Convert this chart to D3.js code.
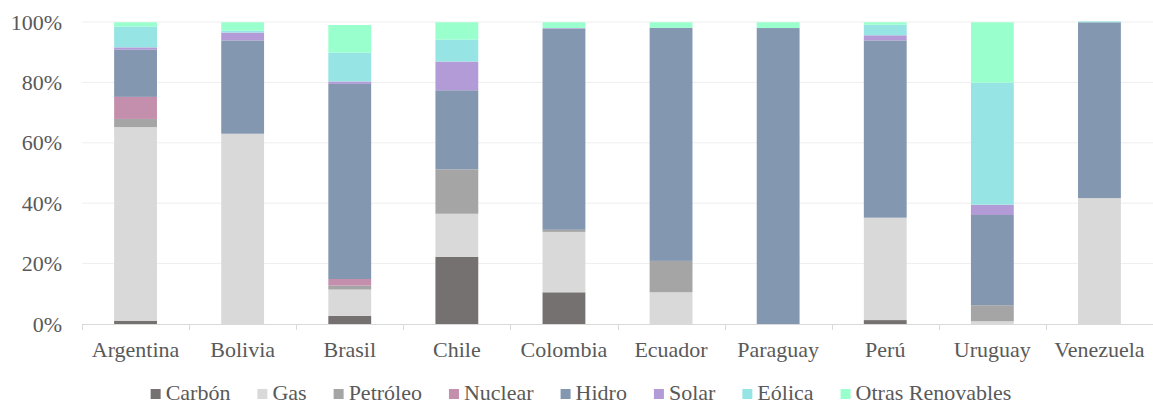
<!DOCTYPE html>
<html>
<head>
<meta charset="utf-8">
<script src="https://cdn.jsdelivr.net/npm/d3@7"></script>
</head>
<body style="margin:0">
<svg id="viz" width="1153" height="405"></svg>
<script>
// Electricity generation mix by source (% of total), South America
const countries = ["Argentina", "Bolivia", "Brasil", "Chile", "Colombia", "Ecuador", "Paraguay", "Perú", "Uruguay", "Venezuela"];
const sources = ["Carbón", "Gas", "Petróleo", "Nuclear", "Hidro", "Solar", "Eólica", "Otras Renovables"];

const carbon    = [1.1, 0,    2.7,  22.2, 10.5, 0,    0,    1.3,  0,    0];
const gas       = [64.1, 63.0, 8.7, 14.3, 20.0, 10.5, 0,    33.9, 0.9,  41.7];
const petroleo  = [2.7, 0,    1.3,  14.7, 0.7,  10.4, 0,    0,    5.3,  0];
const nuclear   = [7.3, 0,    2.2,  0,    0,    0,    0,    0,    0,    0];
const hidro     = [15.6, 30.9, 64.6, 26.2, 66.6, 77.2, 98.0, 58.7, 29.9, 58.2];
const solar     = [0.8, 2.6,  0.8,  9.5,  0.2,  0,    0,    1.7,  3.4,  0];
const eolica    = [6.9, 0.6,  9.6,  7.3,  0,    0,    0,    3.5,  40.4, 0.3];
const otras     = [1.4, 2.8,  9.1,  5.7,  1.9,  1.8,  1.9,  0.8,  20.0, 0];

const yTicks = [0, 20, 40, 60, 80, 100];
const colors = ["#767171", "#d9d9d9", "#a5a5a5", "#c48fad", "#8497b0", "#b29bd6", "#96e4e4", "#99ffcc"];

const seriesValues = [carbon, gas, petroleo, nuclear, hidro, solar, eolica, otras];
const rows = countries.map((c, i) => {
  const r = { country: c };
  sources.forEach((s, k) => { r[s] = seriesValues[k][i]; });
  return r;
});

const TEXT_COLOR = "#595959";
const FONT_SIZE = 22;
const svg = d3.select("#viz");
const margin = { left: 82, right: 0, top: 22, bottom: 81 };
const width = 1153, height = 405;

// serif label helper
function label(sel) {
  return sel
    .attr("font-family", "Liberation Serif")
    .style("font-family", "'Liberation Serif'")
    .attr("font-size", FONT_SIZE)
    .attr("fill", TEXT_COLOR);
}

const x = d3.scaleBand()
  .domain(countries)
  .range([margin.left, width - margin.right])
  .paddingInner(0.6)
  .paddingOuter(0.3);

const y = d3.scaleLinear()
  .domain([0, 100])
  .range([height - margin.bottom, margin.top]);

// horizontal gridlines
svg.append("g")
  .selectAll("line")
  .data(yTicks.filter(t => t > 0))
  .join("line")
  .attr("x1", margin.left).attr("x2", width)
  .attr("y1", d => y(d)).attr("y2", d => y(d))
  .attr("stroke", "#eeeeee").attr("stroke-width", 1);

// y axis labels
svg.append("g")
  .selectAll("text")
  .data(yTicks)
  .join("text")
  .attr("x", 62)
  .attr("y", d => y(d) + 7.5)
  .attr("text-anchor", "end")
  .call(label)
  .text(d => d + "%");

// stacked bars
const stacked = d3.stack().keys(sources)(rows);

svg.append("g")
  .selectAll("g")
  .data(stacked)
  .join("g")
  .attr("fill", (d, i) => colors[i])
  .selectAll("rect")
  .data(d => d)
  .join("rect")
  .attr("x", d => x(d.data.country))
  .attr("width", x.bandwidth())
  .attr("y", d => y(d[1]))
  .attr("height", d => Math.max(0, y(d[0]) - y(d[1])));

// x axis with category boundary ticks
const x0 = x.range()[0];
const boundaries = d3.range(countries.length + 1).map(i => x0 + i * (width - margin.left) / countries.length);
const gx = svg.append("g");
gx.append("line")
  .attr("x1", margin.left).attr("x2", width)
  .attr("y1", y(0) + 0.5).attr("y2", y(0) + 0.5)
  .attr("stroke", "#d9d9d9").attr("stroke-width", 1);
gx.selectAll("line.tick")
  .data(boundaries)
  .join("line")
  .attr("class", "tick")
  .attr("x1", d => Math.round(d) + 0.5).attr("x2", d => Math.round(d) + 0.5)
  .attr("y1", y(0)).attr("y2", y(0) + 6)
  .attr("stroke", "#d9d9d9").attr("stroke-width", 1);

gx.selectAll("text")
  .data(countries)
  .join("text")
  .attr("x", d => x(d) + x.bandwidth() / 2)
  .attr("y", 357)
  .attr("text-anchor", "middle")
  .call(label)
  .text(d => d);

// legend: swatch + label, laid out left to right
const legend = svg.append("g");
const items = legend.selectAll("g")
  .data(sources)
  .join("g");
items.append("rect")
  .attr("width", 10).attr("height", 10)
  .attr("y", 389)
  .attr("fill", (d, i) => colors[i]);
items.append("text")
  .attr("x", 15)
  .attr("y", 400)
  .call(label)
  .text(d => d);

const gap = 27;
let cursor = 0;
const offsets = [];
items.each(function() {
  const w = this.querySelector("text").getComputedTextLength();
  offsets.push(cursor);
  cursor += 15 + w + gap;
});
const total = cursor - gap;
const start = 581 - total / 2;
items.attr("transform", (d, i) => `translate(${start + offsets[i]},0)`);
</script>
</body>
</html>
